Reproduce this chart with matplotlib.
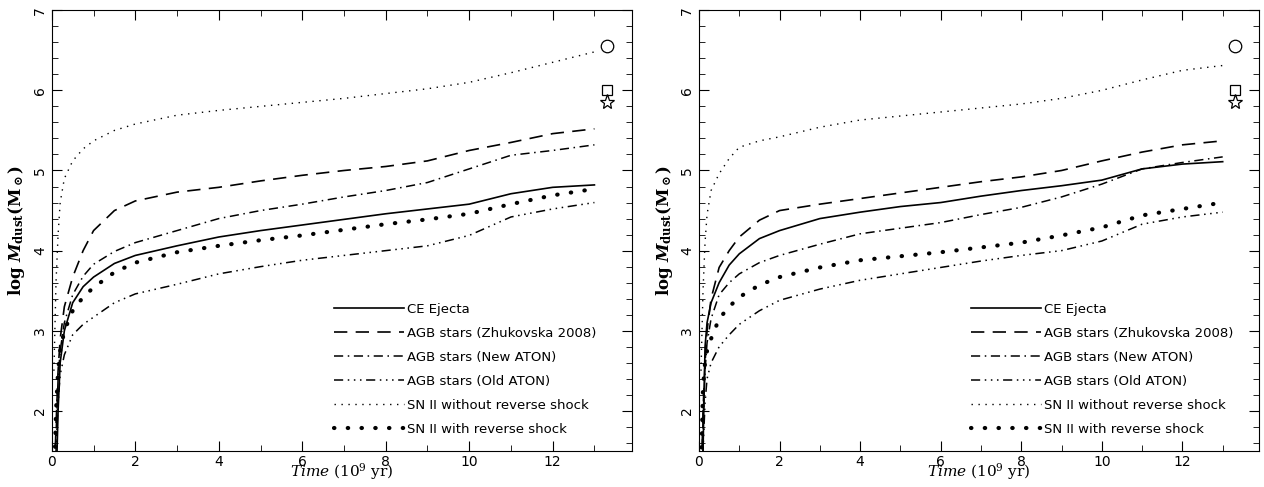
import matplotlib
matplotlib.use("Agg")
import matplotlib.pyplot as plt
from matplotlib.ticker import MultipleLocator

plt.rcParams['mathtext.fontset'] = 'dejavuserif'

# time grid (10^9 yr)
t = [0.05, 0.1, 0.15, 0.2, 0.3, 0.5, 0.75, 1, 1.5, 2, 3, 4, 5, 6, 7, 8, 9, 10, 11, 12, 13]

labels = ["CE Ejecta", "AGB stars (Zhukovska 2008)", "AGB stars (New ATON)",
          "AGB stars (Old ATON)", "SN II without reverse shock", "SN II with reverse shock"]

# left panel
l_ce = [0.5, 1.0, 2.0, 2.6, 3.0, 3.35, 3.55, 3.67, 3.84, 3.94, 4.06, 4.17, 4.25, 4.32, 4.39, 4.46, 4.52, 4.58, 4.71, 4.79, 4.82]
l_zh = [1.0, 1.8, 2.5, 2.9, 3.3, 3.67, 4.0, 4.25, 4.5, 4.62, 4.73, 4.79, 4.87, 4.94, 5.0, 5.05, 5.12, 5.25, 5.35, 5.46, 5.52]
l_new = [1.0, 1.7, 2.4, 2.75, 3.1, 3.45, 3.68, 3.83, 3.99, 4.1, 4.25, 4.4, 4.5, 4.58, 4.67, 4.75, 4.85, 5.02, 5.19, 5.25, 5.32]
l_old = [0.8, 1.5, 2.1, 2.45, 2.7, 2.95, 3.08, 3.17, 3.35, 3.46, 3.58, 3.71, 3.8, 3.88, 3.94, 4.0, 4.06, 4.19, 4.42, 4.52, 4.6]
l_sn = [2.5, 3.6, 4.2, 4.6, 4.9, 5.12, 5.27, 5.37, 5.5, 5.58, 5.69, 5.75, 5.8, 5.85, 5.9, 5.96, 6.02, 6.1, 6.22, 6.35, 6.48]
l_snrs = [1.0, 2.0, 2.5, 2.75, 3.0, 3.25, 3.42, 3.54, 3.73, 3.85, 3.98, 4.06, 4.13, 4.19, 4.26, 4.33, 4.39, 4.46, 4.58, 4.69, 4.77]

# right panel
r_ce = [0.5, 1.5, 2.8, 3.1, 3.35, 3.6, 3.82, 3.96, 4.15, 4.25, 4.4, 4.48, 4.55, 4.6, 4.68, 4.75, 4.81, 4.88, 5.02, 5.08, 5.11]
r_zh = [1.0, 2.0, 2.6, 3.0, 3.4, 3.79, 4.0, 4.17, 4.38, 4.5, 4.58, 4.65, 4.72, 4.79, 4.86, 4.92, 5.0, 5.12, 5.23, 5.32, 5.37]
r_new = [1.0, 1.9, 2.5, 2.85, 3.15, 3.45, 3.6, 3.71, 3.85, 3.94, 4.08, 4.21, 4.28, 4.35, 4.45, 4.54, 4.67, 4.83, 5.02, 5.1, 5.17]
r_old = [0.8, 1.5, 2.1, 2.4, 2.6, 2.8, 2.95, 3.08, 3.25, 3.38, 3.52, 3.63, 3.71, 3.79, 3.87, 3.94, 4.0, 4.12, 4.33, 4.42, 4.48]
r_sn = [2.5, 3.5, 4.1, 4.45, 4.75, 4.96, 5.15, 5.29, 5.37, 5.42, 5.54, 5.63, 5.68, 5.73, 5.78, 5.83, 5.9, 6.0, 6.13, 6.25, 6.31]
r_snrs = [1.2, 2.3, 2.6, 2.75, 2.9, 3.15, 3.3, 3.42, 3.57, 3.67, 3.79, 3.88, 3.93, 3.98, 4.04, 4.1, 4.19, 4.29, 4.44, 4.52, 4.6]

# observed dust masses (same in both panels)
obs_t = [13.3, 13.3, 13.3]
obs_m = [6.55, 6.0, 5.86]
obs_mk = ['o', 's', '*']
obs_ms = [9, 7, 11]

styles = [
    dict(ls='-', lw=1.2),
    dict(ls=(0, (8, 5)), lw=1.2),
    dict(ls=(0, (6, 3, 1, 3)), lw=1.1),
    dict(ls=(0, (6, 3, 1, 3, 1, 3, 1, 3)), lw=1.1),
    dict(ls=(0, (1, 4)), lw=1.0),
    dict(ls=(0, (0.1, 3.2)), lw=3.0, dash_capstyle='round'),
]

fig = plt.figure(figsize=(12.64, 4.87), dpi=100)
ax1 = fig.add_axes([0.041, 0.074, 0.459, 0.905])
ax2 = fig.add_axes([0.553, 0.074, 0.443, 0.905])

for ax, series in [(ax1, [l_ce, l_zh, l_new, l_old, l_sn, l_snrs]),
                   (ax2, [r_ce, r_zh, r_new, r_old, r_sn, r_snrs])]:
    for y, lab, st in zip(series, labels, styles):
        ax.plot(t, y, color='black', label=lab, **st)
    for x, y, mk, ms in zip(obs_t, obs_m, obs_mk, obs_ms):
        ax.plot(x, y, marker=mk, ms=ms, mfc='white', mec='black', mew=0.9, ls='none')
    ax.set_xlim(0, 13.9)
    ax.set_ylim(1.5, 7)
    ax.xaxis.set_major_locator(MultipleLocator(2))
    ax.xaxis.set_minor_locator(MultipleLocator(1))
    ax.yaxis.set_major_locator(MultipleLocator(1))
    ax.yaxis.set_minor_locator(MultipleLocator(0.2))
    ax.tick_params(which='both', direction='in', top=True, right=True, labelsize=10)
    ax.tick_params(which='major', length=7)
    ax.tick_params(which='minor', length=4)
    ax.tick_params(axis='x', pad=3)
    for lab in ax.get_yticklabels():
        lab.set_rotation(90)
        lab.set_va('center')
    ax.set_xlabel(r'$\mathit{Time}\ \mathrm{(10^9\ yr)}$', fontsize=11, labelpad=-6)
    ax.set_ylabel(r'$\mathbf{log}\ \mathbfit{M}_{\mathbf{dust}}\mathbf{(M_\odot)}$', fontsize=12, labelpad=4)
    ax.legend(loc='lower left', bbox_to_anchor=(0.486, 0.035), frameon=False,
              borderpad=0, borderaxespad=0,
              handlelength=5.3, handletextpad=0.25, labelspacing=0.83, fontsize=9.5)

fig.savefig('out.png', dpi=100)
